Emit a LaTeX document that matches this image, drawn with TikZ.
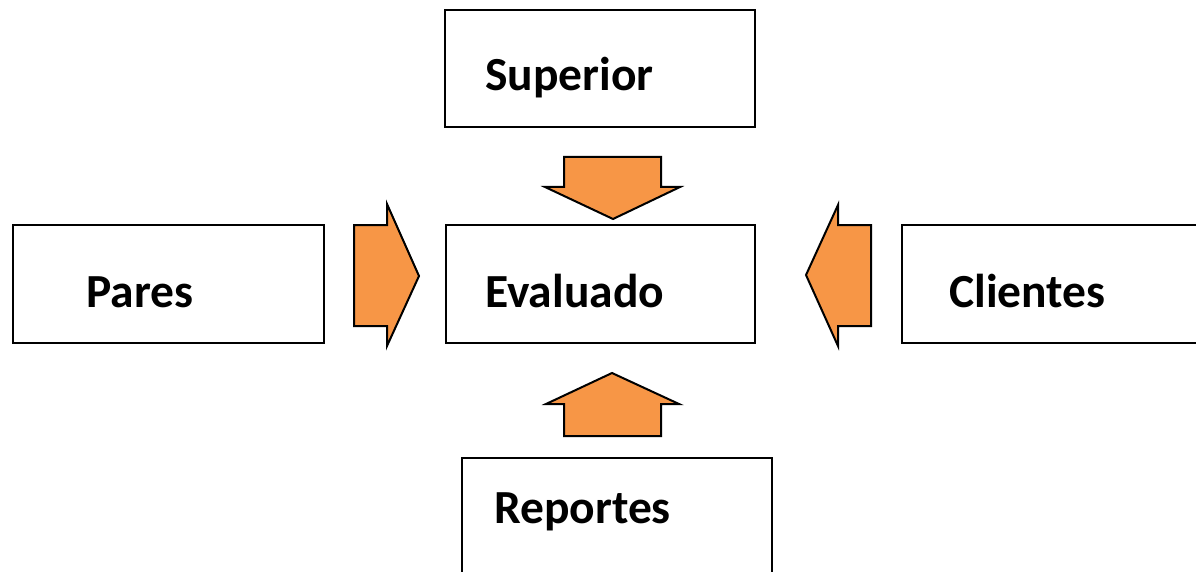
\documentclass[tikz,border=0pt]{standalone}
\usepackage{fontspec}
\setmainfont{Carlito}
\definecolor{arroworange}{HTML}{F79646}
\begin{document}
\begin{tikzpicture}[x=1pt,y=-1pt,
  box/.style={draw=black,line width=2.8pt,fill=white},
  lbl/.style={anchor=base west,inner sep=0pt,font=\fontsize{47.5}{52}\selectfont\bfseries},
  blockarrow/.style={draw=black,line width=2pt,fill=arroworange,line join=miter}]
\clip (0,0) rectangle (1196,572);
\useasboundingbox (0,0) rectangle (1196,572);
% boxes
\draw[box] (445,10) rectangle (755,127);
\draw[box] (446,225) rectangle (755,343);
\draw[box] (13,225) rectangle (324,343);
\draw[box] (902,225) rectangle (1220,343);
\draw[box] (462,458) rectangle (772,600);
% labels
\node[lbl] (sup) at (485,91) {Superior};
\node[lbl] (eva) at (485,307) {Evaluado};
\node[lbl] (par) at (86,307) {Pares};
\node[lbl] (cli) at (949,307) {Clientes};
\node[lbl] (rep) at (494,523) {Reportes};
% block arrows
\draw[blockarrow] (564,157) -- (661,157) -- (661,187) -- (680,187) -- (613,219) -- (545,187) -- (564,187) -- cycle;
\draw[blockarrow] (354,225) -- (387,225) -- (387,204) -- (419,276) -- (387,346) -- (387,326) -- (354,326) -- cycle;
\draw[blockarrow] (871,225) -- (838,225) -- (838,205) -- (806,275) -- (838,346) -- (838,326) -- (871,326) -- cycle;
\draw[blockarrow] (564,436) -- (661,436) -- (661,404) -- (679,404) -- (612,373) -- (546,404) -- (564,404) -- cycle;
\end{tikzpicture}
\end{document}
